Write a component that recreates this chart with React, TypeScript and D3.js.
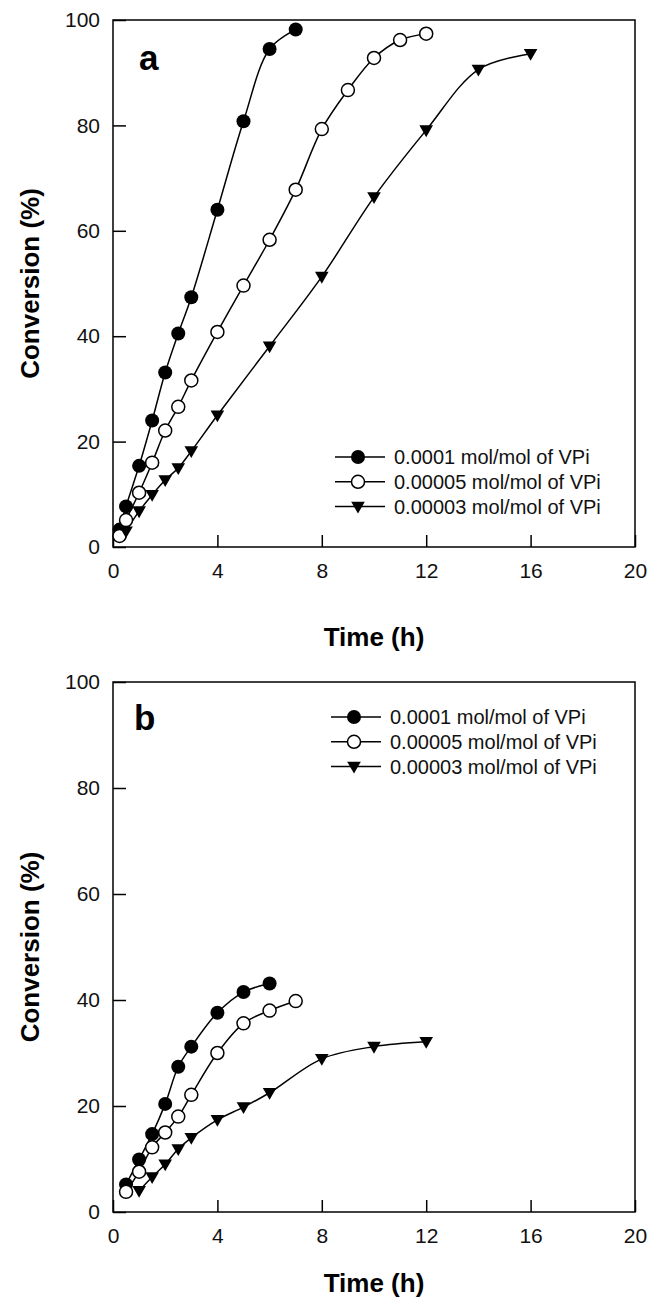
import React, { useEffect, useRef } from "react";
import * as d3 from "d3";

// tick values and legend labels
const xTicks = [0, 4, 8, 12, 16, 20];
const yTicks = [0, 20, 40, 60, 80, 100];
const seriesLabels = [
  "0.0001 mol/mol of VPi",
  "0.00005 mol/mol of VPi",
  "0.00003 mol/mol of VPi",
];

// panel a
const aTimeHigh = [0.25, 0.5, 1, 1.5, 2, 2.5, 3, 4, 5, 6, 7];
const aConvHigh = [3.3, 7.7, 15.4, 24.0, 33.1, 40.5, 47.4, 64.0, 80.8, 94.5, 98.2];
const aTimeMid = [0.25, 0.5, 1, 1.5, 2, 2.5, 3, 4, 5, 6, 7, 8, 9, 10, 11, 12];
const aConvMid = [2.1, 5.1, 10.3, 16.0, 22.1, 26.6, 31.6, 40.8, 49.6, 58.3, 67.8, 79.3, 86.7, 92.8, 96.2, 97.4];
const aTimeLow = [0.5, 1, 1.5, 2, 2.5, 3, 4, 6, 8, 10, 12, 14, 16];
const aConvLow = [3.0, 6.8, 9.9, 12.7, 15.0, 18.2, 25.0, 38.1, 51.3, 66.4, 79.1, 90.6, 93.6];

// panel b
const bTimeHigh = [0.5, 1, 1.5, 2, 2.5, 3, 4, 5, 6];
const bConvHigh = [5.2, 9.9, 14.7, 20.4, 27.4, 31.2, 37.6, 41.5, 43.1];
const bTimeMid = [0.5, 1, 1.5, 2, 2.5, 3, 4, 5, 6, 7];
const bConvMid = [3.8, 7.6, 12.2, 15.0, 18.0, 22.1, 30.0, 35.6, 38.0, 39.8];
const bTimeLow = [1, 1.5, 2, 2.5, 3, 4, 5, 6, 8, 10, 12];
const bConvLow = [4.0, 6.6, 9.0, 11.9, 14.0, 17.4, 19.8, 22.5, 28.9, 31.2, 32.1];

const FONT = "'Liberation Sans', Arial, Helvetica, sans-serif";
const markers = ["filled", "open", "triangle"];

const zip = (t, v) => t.map((d, i) => ({ t: d, v: v[i] }));

const drawMarker = (g, kind, cx, cy) => {
  if (kind === "filled") {
    g.append("circle").attr("cx", cx).attr("cy", cy).attr("r", 7).attr("fill", "#000");
  } else if (kind === "open") {
    g.append("circle")
      .attr("cx", cx).attr("cy", cy).attr("r", 6.5)
      .attr("fill", "#fff").attr("stroke", "#000").attr("stroke-width", 1.5);
  } else {
    g.append("path")
      .attr("d", `M${cx - 6.8},${cy - 4.8}L${cx + 6.8},${cy - 4.8}L${cx},${cy + 7}Z`)
      .attr("fill", "#000");
  }
};

const drawPanel = (svg, p) => {
  const x = d3.scaleLinear().domain([0, 20]).range([p.left, p.right]);
  const y = d3.scaleLinear().domain([0, 100]).range([p.bottom, p.top]);
  const g = svg.append("g");

  // eje X con ticks hacia dentro
  const gx = g.append("g")
    .attr("transform", `translate(0, ${p.bottom})`)
    .call(d3.axisBottom(x).tickValues(xTicks).tickSizeInner(-12).tickSizeOuter(0).tickPadding(16));
  gx.select(".domain").remove();
  gx.selectAll("line").attr("stroke-width", 1.5);
  gx.selectAll("text").attr("font-size", 21).attr("font-family", FONT).attr("fill", "#111");

  // eje Y
  const gy = g.append("g")
    .attr("transform", `translate(${p.left}, 0)`)
    .call(d3.axisLeft(y).tickValues(yTicks).tickSizeInner(-13).tickSizeOuter(0).tickPadding(13));
  gy.select(".domain").remove();
  gy.selectAll("line").attr("stroke-width", 1.5);
  gy.selectAll("text").attr("font-size", 21).attr("font-family", FONT).attr("fill", "#111");

  // marco
  g.append("rect")
    .attr("x", p.left).attr("y", p.top)
    .attr("width", p.right - p.left).attr("height", p.bottom - p.top)
    .attr("fill", "none").attr("stroke", "#000").attr("stroke-width", 1.5);

  const line = d3.line()
    .x((d) => x(d.t))
    .y((d) => y(d.v))
    .curve(d3.curveCatmullRom.alpha(0.5));

  p.series.forEach((s, i) => {
    g.append("path")
      .attr("d", line(s))
      .attr("fill", "none").attr("stroke", "#000").attr("stroke-width", 1.5);
  });
  p.series.forEach((s, i) => {
    s.forEach((d) => drawMarker(g, markers[i], x(d.t), y(d.v)));
  });

  // leyenda
  seriesLabels.forEach((label, i) => {
    const ly = p.legend.y + i * 24.8;
    g.append("line")
      .attr("x1", p.legend.x).attr("x2", p.legend.x + 50)
      .attr("y1", ly).attr("y2", ly)
      .attr("stroke", "#000").attr("stroke-width", 1.5);
    drawMarker(g, markers[i], p.legend.x + 23, ly);
    g.append("text")
      .attr("x", p.legend.x + 59).attr("y", ly)
      .attr("dy", "0.36em")
      .attr("font-size", 20).attr("font-family", FONT).attr("fill", "#111")
      .text(label);
  });

  // letra del panel
  g.append("text")
    .attr("x", p.tag.x).attr("y", p.tag.y)
    .attr("font-size", 35).attr("font-weight", "bold").attr("font-family", FONT)
    .text(p.tag.text);

  // títulos de ejes
  g.append("text")
    .attr("x", (p.left + p.right) / 2).attr("y", p.xTitleY)
    .attr("text-anchor", "middle")
    .attr("font-size", 26).attr("font-weight", "bold").attr("font-family", FONT)
    .text("Time (h)");

  g.append("text")
    .attr("transform", `translate(39, ${(p.top + p.bottom) / 2}) rotate(-90)`)
    .attr("text-anchor", "middle")
    .attr("font-size", 26).attr("font-weight", "bold").attr("font-family", FONT)
    .text("Conversion (%)");
};

const App = () => {
  const ref = useRef(null);

  useEffect(() => {
    const svg = d3.select(ref.current);
    svg.selectAll("*").remove();

    drawPanel(svg, {
      left: 113, right: 635, top: 20, bottom: 547,
      series: [zip(aTimeHigh, aConvHigh), zip(aTimeMid, aConvMid), zip(aTimeLow, aConvLow)],
      legend: { x: 335, y: 457 },
      tag: { text: "a", x: 139, y: 70 },
      xTitleY: 646,
    });

    drawPanel(svg, {
      left: 113, right: 635, top: 682, bottom: 1212,
      series: [zip(bTimeHigh, bConvHigh), zip(bTimeMid, bConvMid), zip(bTimeLow, bConvLow)],
      legend: { x: 331, y: 717 },
      tag: { text: "b", x: 134, y: 730 },
      xTitleY: 1292,
    });
  }, []);

  return (
    <svg
      ref={ref}
      width={652}
      height={1301}
      style={{ position: "absolute", left: 0, top: 0, background: "#fff" }}
    ></svg>
  );
};

export default App;
